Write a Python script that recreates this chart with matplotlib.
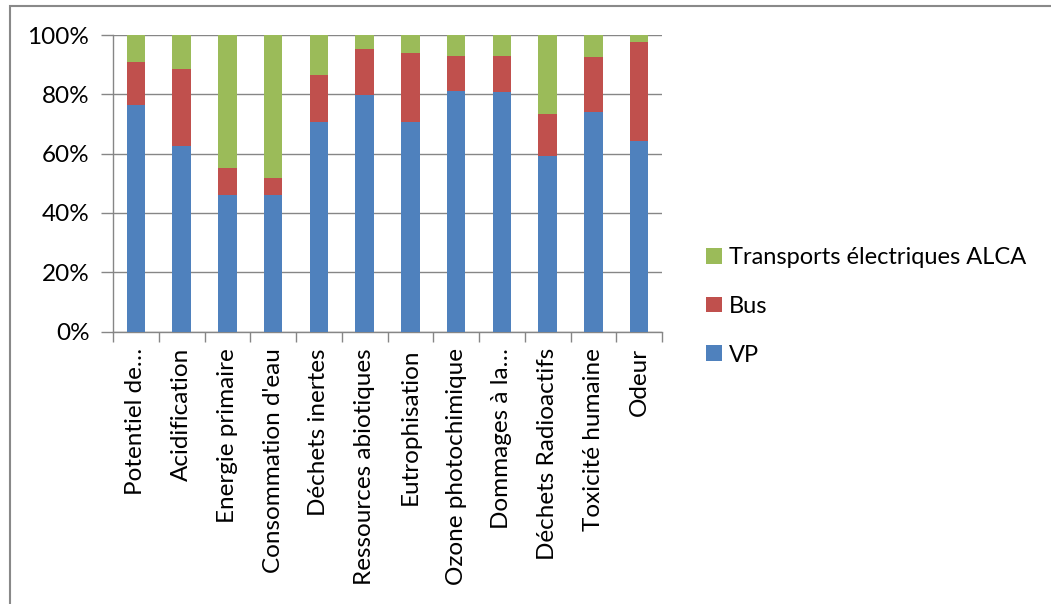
import matplotlib
matplotlib.use("Agg")
from matplotlib import pyplot as plt
from matplotlib.patches import Rectangle
from matplotlib.ticker import FixedLocator, PercentFormatter
import numpy as np

plt.rcParams['font.family'] = ['Lato', 'DejaVu Sans']

categories = ["Potentiel de…", "Acidification", "Energie primaire", "Consommation d'eau",
              "Déchets inertes", "Ressources abiotiques", "Eutrophisation",
              "Ozone photochimique", "Dommages à la…", "Déchets Radioactifs",
              "Toxicité humaine", "Odeur"]

# parts en %
vp = [76.5, 62.6, 46.0, 46.0, 70.5, 79.8, 70.6, 81.2, 80.9, 59.3, 74.1, 64.3]
bus = [14.5, 26.1, 9.0, 5.7, 16.1, 15.6, 23.2, 11.7, 12.1, 14.1, 18.6, 33.4]
alca = [9.0, 11.3, 45.0, 48.3, 13.4, 4.6, 6.2, 7.1, 7.0, 26.6, 7.3, 2.3]

c_vp = '#4F81BD'
c_bus = '#C0504D'
c_alca = '#9BBB59'
grid_c = '#868686'
fs = 17.5

fig = plt.figure(figsize=(10.51, 6.04), dpi=100)
ax = fig.add_axes([113 / 1051, 1 - 331.5 / 604, 549 / 1051, 296.5 / 604])

x = np.arange(len(categories))
vp_a = np.array(vp)
bus_a = np.array(bus)
alca_a = np.array(alca)

b1 = ax.bar(x, vp_a, 0.4, color=c_vp, label='VP', zorder=3)
b2 = ax.bar(x, bus_a, 0.4, bottom=vp_a, color=c_bus, label='Bus', zorder=3)
b3 = ax.bar(x, alca_a, 0.4, bottom=vp_a + bus_a, color=c_alca,
            label='Transports électriques ALCA', zorder=3)

ax.set_xlim(-0.5, len(categories) - 0.5)
ax.set_ylim(0, 100)
ax.set_yticks(np.arange(0, 101, 20))
ax.yaxis.set_major_formatter(PercentFormatter(decimals=0))
ax.yaxis.grid(True, color=grid_c, linewidth=1.0, zorder=0)

ax.set_xticks(x)
ax.set_xticklabels(categories, rotation=90, fontsize=fs)
ax.xaxis.set_minor_locator(FixedLocator(np.arange(-0.5, len(categories), 1)))
ax.tick_params(axis='x', which='major', length=0, pad=12)
ax.tick_params(axis='x', which='minor', length=7, color=grid_c, width=1.0)
ax.tick_params(axis='y', length=9, color=grid_c, width=1.0, labelsize=fs, pad=8)

for s in ['top', 'right']:
    ax.spines[s].set_visible(False)
for s in ['left', 'bottom']:
    ax.spines[s].set_color(grid_c)
    ax.spines[s].set_linewidth(1.0)

leg = fig.legend(handles=[b3, b2, b1], loc='upper left',
                 bbox_to_anchor=(685 / 1051, 1 - 226 / 604),
                 frameon=False, fontsize=17, handlelength=0.65,
                 handleheight=0.65, handletextpad=0.3, labelspacing=1.17)

# cadre du graphique
fig.patches.append(Rectangle((10 / 1051, -0.1), 1.2, 1 - 6 / 604 + 0.1,
                             transform=fig.transFigure, fill=False,
                             edgecolor='#898989', linewidth=1.5))

fig.savefig('out.png', dpi=100)
